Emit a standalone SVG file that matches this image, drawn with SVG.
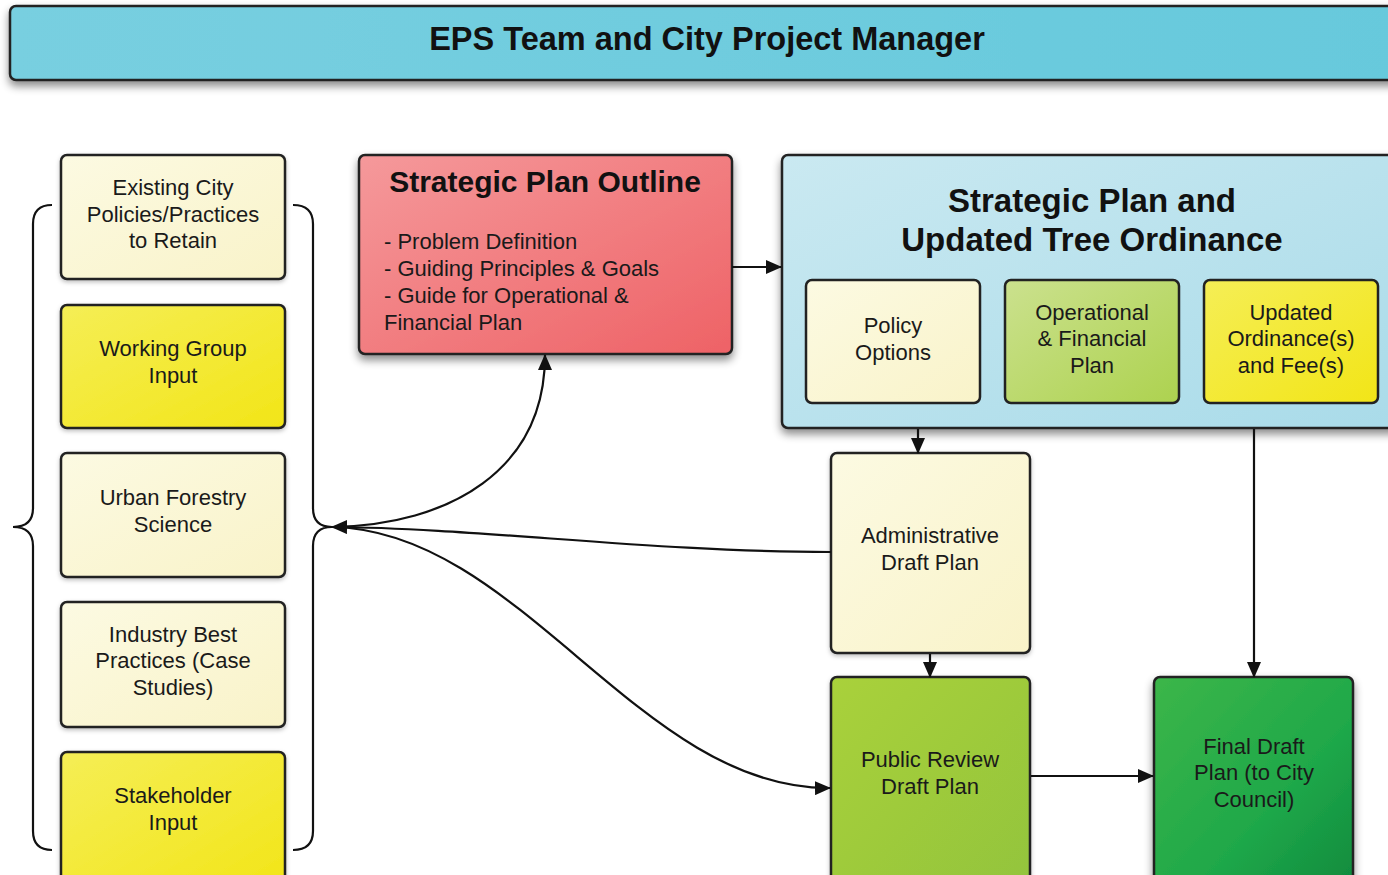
<svg xmlns="http://www.w3.org/2000/svg" width="1388" height="875" viewBox="0 0 1388 875">
<defs>
<filter id="sh" x="-10%" y="-10%" width="130%" height="140%"><feDropShadow dx="0" dy="5" stdDeviation="4" flood-color="#000" flood-opacity="0.45"/></filter>
<filter id="sh2" x="-10%" y="-10%" width="130%" height="140%"><feDropShadow dx="0" dy="2" stdDeviation="2" flood-color="#000" flood-opacity="0.25"/></filter>
<linearGradient id="gHead" x1="0" y1="0" x2="1" y2="0"><stop offset="0" stop-color="#78cfe0"/><stop offset="1" stop-color="#66c9dc"/></linearGradient>
<linearGradient id="gRed" x1="0" y1="0" x2="1" y2="1"><stop offset="0" stop-color="#f5999b"/><stop offset="1" stop-color="#ee6266"/></linearGradient>
<linearGradient id="gBlue" x1="0" y1="0" x2="1" y2="1"><stop offset="0" stop-color="#cae9f1"/><stop offset="1" stop-color="#a9dbe9"/></linearGradient>
<linearGradient id="gCream" x1="0" y1="0" x2="1" y2="1"><stop offset="0" stop-color="#fcfae2"/><stop offset="1" stop-color="#f9f3c9"/></linearGradient>
<linearGradient id="gYellow" x1="0" y1="0" x2="1" y2="1"><stop offset="0" stop-color="#f5ee56"/><stop offset="1" stop-color="#f2e517"/></linearGradient>
<linearGradient id="gOlive" x1="0" y1="0" x2="1" y2="1"><stop offset="0" stop-color="#cbe18e"/><stop offset="1" stop-color="#add24f"/></linearGradient>
<linearGradient id="gLime" x1="0" y1="0" x2="1" y2="1"><stop offset="0" stop-color="#a9d13a"/><stop offset="1" stop-color="#93c43c"/></linearGradient>
<linearGradient id="gGreen" x1="0" y1="0" x2="1" y2="1"><stop offset="0" stop-color="#3cb64a"/><stop offset="0.6" stop-color="#1fa849"/><stop offset="1" stop-color="#0f8a3e"/></linearGradient>
<marker id="ah" markerUnits="userSpaceOnUse" markerWidth="16" markerHeight="14" refX="15" refY="7" orient="auto"><path d="M0,0 L16,7 L0,14 Z" fill="#111"/></marker>
</defs>
<style>
.box{stroke:#222;stroke-width:2.5}
.t{font-family:"Liberation Sans",Arial,sans-serif;font-size:22px;fill:#1a1a1a;text-anchor:middle}
.b{font-family:"Liberation Sans",Arial,sans-serif;font-weight:bold;fill:#111;text-anchor:middle}
.l{font-family:"Liberation Sans",Arial,sans-serif;font-size:22px;fill:#1a1a1a}
.c{fill:none;stroke:#111;stroke-width:2.2}
</style>
<rect width="1388" height="875" fill="#fff"/>

<g id="header">
<rect class="box" x="10" y="6" width="1395" height="74" rx="6" fill="url(#gHead)" filter="url(#sh)"/>
<text class="b" x="707" y="50" font-size="32.5">EPS Team and City Project Manager</text>
</g>

<g id="brackets">
<path class="c" d="M52 205 Q33 205 33 224 L33 508 Q33 527 13 527 Q33 527 33 546 L33 831 Q33 850 52 850"/>
<path class="c" d="M293 205 Q313 205 313 224 L313 508 Q313 527 332 527 Q313 527 313 546 L313 831 Q313 850 293 850"/>
</g>

<g id="existing">
<rect class="box" x="61" y="155" width="224" height="124" rx="6" fill="url(#gCream)" filter="url(#sh2)"/>
<text class="t" x="173" y="195">Existing City</text>
<text class="t" x="173" y="222">Policies/Practices</text>
<text class="t" x="173" y="248">to Retain</text>
</g>
<g id="working">
<rect class="box" x="61" y="305" width="224" height="123" rx="6" fill="url(#gYellow)" filter="url(#sh2)"/>
<text class="t" x="173" y="356">Working Group</text>
<text class="t" x="173" y="383">Input</text>
</g>
<g id="urban">
<rect class="box" x="61" y="453" width="224" height="124" rx="6" fill="url(#gCream)" filter="url(#sh2)"/>
<text class="t" x="173" y="505">Urban Forestry</text>
<text class="t" x="173" y="532">Science</text>
</g>
<g id="industry">
<rect class="box" x="61" y="602" width="224" height="125" rx="6" fill="url(#gCream)" filter="url(#sh2)"/>
<text class="t" x="173" y="642">Industry Best</text>
<text class="t" x="173" y="668">Practices (Case</text>
<text class="t" x="173" y="695">Studies)</text>
</g>
<g id="stakeholder">
<rect class="box" x="61" y="752" width="224" height="140" rx="6" fill="url(#gYellow)" filter="url(#sh2)"/>
<text class="t" x="173" y="803">Stakeholder</text>
<text class="t" x="173" y="830">Input</text>
</g>

<g id="outline">
<rect class="box" x="359" y="155" width="373" height="199" rx="6" fill="url(#gRed)" filter="url(#sh)"/>
<text class="b" x="545" y="192" font-size="30">Strategic Plan Outline</text>
<text class="l" x="384" y="249">- Problem Definition</text>
<text class="l" x="384" y="276">- Guiding Principles &amp; Goals</text>
<text class="l" x="384" y="303">- Guide for Operational &amp;</text>
<text class="l" x="384" y="330">Financial Plan</text>
</g>

<g id="strategic">
<rect class="box" x="782" y="155" width="625" height="273" rx="6" fill="url(#gBlue)" filter="url(#sh)"/>
<text class="b" x="1092" y="212" font-size="33">Strategic Plan and</text>
<text class="b" x="1092" y="251" font-size="33">Updated Tree Ordinance</text>
</g>
<g id="policy">
<rect class="box" x="806" y="280" width="174" height="123" rx="6" fill="url(#gCream)"/>
<text class="t" x="893" y="333">Policy</text>
<text class="t" x="893" y="360">Options</text>
</g>
<g id="operational">
<rect class="box" x="1005" y="280" width="174" height="123" rx="6" fill="url(#gOlive)"/>
<text class="t" x="1092" y="320">Operational</text>
<text class="t" x="1092" y="346">&amp; Financial</text>
<text class="t" x="1092" y="373">Plan</text>
</g>
<g id="updated">
<rect class="box" x="1204" y="280" width="174" height="123" rx="6" fill="url(#gYellow)"/>
<text class="t" x="1291" y="320">Updated</text>
<text class="t" x="1291" y="346">Ordinance(s)</text>
<text class="t" x="1291" y="373">and Fee(s)</text>
</g>

<g id="admin">
<rect class="box" x="831" y="453" width="199" height="200" rx="6" fill="url(#gCream)" filter="url(#sh2)"/>
<text class="t" x="930" y="543">Administrative</text>
<text class="t" x="930" y="570">Draft Plan</text>
</g>
<g id="public">
<rect class="box" x="831" y="677" width="199" height="215" rx="6" fill="url(#gLime)" filter="url(#sh2)"/>
<text class="t" x="930" y="767">Public Review</text>
<text class="t" x="930" y="794">Draft Plan</text>
</g>
<g id="final">
<rect class="box" x="1154" y="677" width="199" height="215" rx="6" fill="url(#gGreen)" filter="url(#sh)"/>
<text class="t" x="1254" y="754">Final Draft</text>
<text class="t" x="1254" y="780">Plan (to City</text>
<text class="t" x="1254" y="807">Council)</text>
</g>

<g id="connectors">
<path class="c" d="M732 267 L781 267" marker-end="url(#ah)"/>
<path class="c" d="M918 429 L918 453" marker-end="url(#ah)"/>
<path class="c" d="M930 654 L930 677" marker-end="url(#ah)"/>
<path class="c" d="M1254 429 L1254 677" marker-end="url(#ah)"/>
<path class="c" d="M1031 776 L1153 776" marker-end="url(#ah)"/>
<path class="c" d="M831 552 C650 552 480 528 332 527" marker-end="url(#ah)"/>
<path class="c" d="M332 527 C450 525 545 470 545 355" marker-end="url(#ah)"/>
<path class="c" d="M332 527 C520 530 640 790 830 788" marker-end="url(#ah)"/>
</g>
</svg>
